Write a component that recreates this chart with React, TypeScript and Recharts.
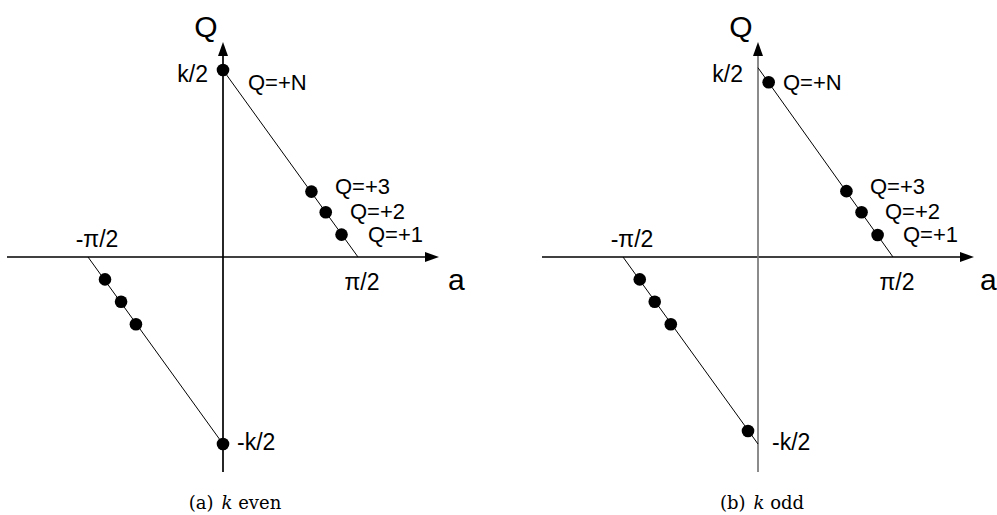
import React from 'react';
import { ComposedChart, XAxis, YAxis, Line, Scatter, ReferenceLine, ReferenceDot } from 'recharts';

// a is measured in units of π/2, Q in units of one charge step
const aExtent: [number, number] = [-1.6, 1.6];
const qExtent: [number, number] = [-9.6, 9.6];
const kHalf = 8.35;

// (a) k even
const evenUpperLine = [{ a: 0, q: 8.35 }, { a: 1, q: 0 }];
const evenLowerLine = [{ a: -1, q: 0 }, { a: 0, q: -8.35 }];
const evenUpperDots = [
  { a: 0, q: 8.35 },
  { a: 0.655, q: 2.92 },
  { a: 0.761, q: 2.0 },
  { a: 0.878, q: 1.0 },
];
const evenLowerDots = [
  { a: -0.874, q: -1.0 },
  { a: -0.755, q: -2.0 },
  { a: -0.645, q: -3.0 },
  { a: 0, q: -8.35 },
];

// (b) k odd
const oddUpperLine = [{ a: 0, q: 8.45 }, { a: 1, q: 0 }];
const oddLowerLine = [{ a: -1, q: 0 }, { a: 0, q: -8.35 }];
const oddUpperDots = [
  { a: 0.079, q: 7.8 },
  { a: 0.655, q: 2.94 },
  { a: 0.767, q: 2.0 },
  { a: 0.886, q: 0.98 },
];
const oddLowerDots = [
  { a: -0.876, q: -1.0 },
  { a: -0.765, q: -2.0 },
  { a: -0.646, q: -3.0 },
  { a: -0.074, q: -7.77 },
];

const aTickValues = [-1, 1];
const aTickLabels = ['-π/2', 'π/2'];
const qTickValues = [kHalf, -kHalf];
const qTickLabels = ['k/2', '-k/2'];
const stateLabels = ['Q=+N', 'Q=+3', 'Q=+2', 'Q=+1'];
const axisNames = ['a', 'Q'];
const captionTags = ['(a)', '(b)'];
const captionWords = ['even', 'odd'];

const SANS = '"Liberation Sans", Arial, sans-serif';

const arrowLine = (color: string, width: number) => (p: any) => {
  const { x1, y1, x2, y2 } = p;
  const dx = x2 - x1;
  const dy = y2 - y1;
  const len = Math.hypot(dx, dy) || 1;
  const ux = dx / len;
  const uy = dy / len;
  const L = 14;
  const W = 5;
  const bx = x2 - ux * L;
  const by = y2 - uy * L;
  const pts = `${x2},${y2} ${bx - uy * W},${by + ux * W} ${bx + uy * W},${by - ux * W}`;
  return (
    <g>
      <line x1={x1} y1={y1} x2={bx + ux} y2={by + uy} stroke={color} strokeWidth={width} />
      <polygon points={pts} fill="#000" />
    </g>
  );
};

const textShape = (text: string, dx: number, dy: number, size: number, anchor: string) => (p: any) => (
  <text
    x={p.cx + dx}
    y={p.cy + dy}
    fontFamily={SANS}
    fontSize={size}
    textAnchor={anchor as any}
    fill="#000"
  >
    {text}
  </text>
);

const dotShape = (p: any) => <circle cx={p.cx} cy={p.cy} r={6.3} fill="#000" />;

type PanelProps = {
  width: number;
  upperLine: { a: number; q: number }[];
  lowerLine: { a: number; q: number }[];
  upperDots: { a: number; q: number }[];
  lowerDots: { a: number; q: number }[];
  vColor: string;
  aNameDx: number;
};

function Panel({ width, upperLine, lowerLine, upperDots, lowerDots, vColor, aNameDx }: PanelProps) {
  return (
    <ComposedChart
      width={width}
      height={515}
      margin={{ top: 42, right: width - 439, bottom: 43, left: 7 }}
    >
      <XAxis type="number" dataKey="a" domain={aExtent} allowDataOverflow hide />
      <YAxis type="number" dataKey="q" domain={qExtent} allowDataOverflow hide />
      <ReferenceLine
        segment={[{ x: aExtent[0], y: 0 }, { x: aExtent[1], y: 0 }]}
        ifOverflow="visible"
        shape={arrowLine('#000', 1.3)}
      />
      <ReferenceLine
        segment={[{ x: 0, y: qExtent[0] }, { x: 0, y: qExtent[1] }]}
        ifOverflow="visible"
        shape={arrowLine(vColor, 1.7)}
      />
      <Line data={upperLine} dataKey="q" stroke="#000" strokeWidth={1} dot={false} isAnimationActive={false} />
      <Line data={lowerLine} dataKey="q" stroke="#000" strokeWidth={1} dot={false} isAnimationActive={false} />
      <Scatter data={upperDots} dataKey="q" fill="#000" shape={dotShape} isAnimationActive={false} />
      <Scatter data={lowerDots} dataKey="q" fill="#000" shape={dotShape} isAnimationActive={false} />

      <ReferenceDot x={0} y={qExtent[1]} r={0} ifOverflow="visible" shape={textShape(axisNames[1], -17, -5, 30, 'middle')} />
      <ReferenceDot x={aExtent[1]} y={0} r={0} ifOverflow="visible" shape={textShape(axisNames[0], aNameDx, 33, 30, 'start')} />
      <ReferenceDot x={aTickValues[0]} y={0} r={0} ifOverflow="visible" shape={textShape(aTickLabels[0], 9, -10, 23, 'middle')} />
      <ReferenceDot x={aTickValues[1]} y={0} r={0} ifOverflow="visible" shape={textShape(aTickLabels[1], 4, 33, 23, 'middle')} />
      <ReferenceDot x={0} y={qTickValues[0]} r={0} ifOverflow="visible" shape={textShape(qTickLabels[0], -15, 12, 23, 'end')} />
      <ReferenceDot x={0} y={qTickValues[1]} r={0} ifOverflow="visible" shape={textShape(qTickLabels[1], 14, 6, 23, 'start')} />
      <ReferenceDot x={0} y={kHalf} r={0} ifOverflow="visible" shape={textShape(stateLabels[0], 25, 20, 22, 'start')} />
      <ReferenceDot x={0} y={0} r={0} ifOverflow="visible" shape={textShape(stateLabels[1], 112, -63, 22, 'start')} />
      <ReferenceDot x={0} y={0} r={0} ifOverflow="visible" shape={textShape(stateLabels[2], 127, -38, 22, 'start')} />
      <ReferenceDot x={0} y={0} r={0} ifOverflow="visible" shape={textShape(stateLabels[3], 145, -15, 22, 'start')} />
    </ComposedChart>
  );
}

function Caption({ tag, word, center }: { tag: string; word: string; center: number }) {
  return (
    <div
      style={{
        position: 'absolute',
        left: center - 100,
        top: 494,
        width: 200,
        textAlign: 'center',
        fontFamily: '"DejaVu Serif", serif',
        fontSize: 18,
        lineHeight: '18px',
        color: '#000',
        whiteSpace: 'nowrap',
      }}
    >
      {tag}
      <span style={{ marginLeft: 8 }}>
        <i>k</i>
      </span>{' '}
      {word}
    </div>
  );
}

export default function App() {
  return (
    <div
      style={{
        position: 'absolute',
        left: 0,
        top: 0,
        width: 997,
        height: 515,
        overflow: 'hidden',
        background: '#fff',
      }}
    >
      <div style={{ position: 'absolute', left: 0, top: 0 }}>
        <Panel
          width={480}
          upperLine={evenUpperLine}
          lowerLine={evenLowerLine}
          upperDots={evenUpperDots}
          lowerDots={evenLowerDots}
          vColor="#000"
          aNameDx={9}
        />
      </div>
      <div style={{ position: 'absolute', left: 535, top: 0 }}>
        <Panel
          width={462}
          upperLine={oddUpperLine}
          lowerLine={oddLowerLine}
          upperDots={oddUpperDots}
          lowerDots={oddLowerDots}
          vColor="#777"
          aNameDx={6}
        />
      </div>
      <Caption tag={captionTags[0]} word={captionWords[0]} center={235} />
      <Caption tag={captionTags[1]} word={captionWords[1]} center={762} />
    </div>
  );
}
